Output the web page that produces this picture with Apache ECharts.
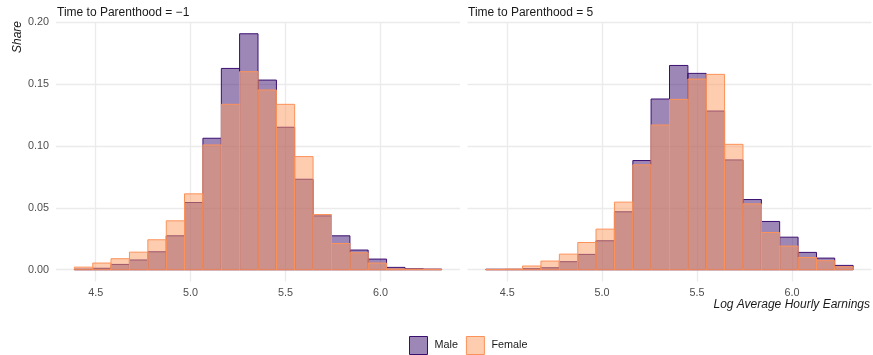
<!DOCTYPE html>
<html>
<head>
<meta charset="utf-8">
<script src="https://cdn.jsdelivr.net/npm/echarts@6/dist/echarts.min.js"></script>
<style>
  html, body { margin: 0; padding: 0; background: #ffffff; }
  #chart { width: 873px; height: 355px; }
</style>
</head>
<body>
<div id="chart"></div>
<script>
// Histogram bin edges (log average hourly earnings), shared by both panels
const binEdges = [4.388, 4.485, 4.581, 4.678, 4.775, 4.872, 4.968, 5.065, 5.162, 5.258,
                  5.355, 5.452, 5.548, 5.645, 5.742, 5.839, 5.935, 6.032, 6.129, 6.225, 6.322];

// Share of observations per bin, one year before parenthood
const maleBefore   = [0.0005, 0.0012, 0.0043, 0.0079, 0.0145, 0.0274, 0.0543, 0.1062, 0.1626, 0.1906,
                      0.1532, 0.1151, 0.0731, 0.0435, 0.0274, 0.0159, 0.0086, 0.0019, 0.0008, 0.0005];
const femaleBefore = [0.0021, 0.0054, 0.0089, 0.0142, 0.0242, 0.0395, 0.0613, 0.1008, 0.1336, 0.1600,
                      0.1452, 0.1336, 0.0914, 0.0446, 0.0212, 0.0137, 0.0054, 0.0006, 0.0005, 0.0004];

// Share of observations per bin, five years after parenthood
const maleAfter    = [0.0004, 0.0004, 0.0008, 0.0016, 0.0065, 0.0124, 0.0234, 0.0468, 0.0882, 0.1379,
                      0.1650, 0.1586, 0.1282, 0.0887, 0.0567, 0.0390, 0.0263, 0.0140, 0.0094, 0.0035];
const femaleAfter  = [0.0003, 0.0005, 0.0030, 0.0070, 0.0126, 0.0220, 0.0328, 0.0546, 0.0847, 0.1169,
                      0.1376, 0.1540, 0.1578, 0.1013, 0.0532, 0.0301, 0.0191, 0.0099, 0.0073, 0.0024];

const panelTitles = ['Time to Parenthood = \u22121', 'Time to Parenthood = 5'];
const xTicks = [4.5, 5.0, 5.5, 6.0];
const yTicks = [0, 0.05, 0.10, 0.15, 0.20];
const groups = ['Male', 'Female'];

const FONT = '"Liberation Sans", Arial, Helvetica, sans-serif';
const MALE_LINE = '#3b0f70';
const MALE_FILL = 'rgba(59, 15, 112, 0.5)';
const FEMALE_LINE = '#fb9259';
const FEMALE_FILL = 'rgba(254, 155, 97, 0.5)';
const GRID_COLOR = '#ebebeb';

function binRows(values) {
  return values.map((v, i) => [binEdges[i], binEdges[i + 1], v]);
}

function makeRenderer(fill, stroke) {
  return function (params, api) {
    const x0 = api.value(0), x1 = api.value(1), y = api.value(2);
    const top = api.coord([x0, y]);
    const base = api.coord([x1, 0]);
    return {
      type: 'rect',
      shape: { x: top[0], y: top[1], width: base[0] - top[0], height: base[1] - top[1] },
      style: { fill: fill, stroke: stroke, lineWidth: 1 }
    };
  };
}

const xRange = [4.2913, 4.2913 + 2.1274];
const yRange = [-0.0095, 0.2001];

function xAxisFor(gridIndex) {
  return {
    type: 'value', gridIndex: gridIndex, min: xRange[0], max: xRange[1],
    axisLine: { show: false },
    axisTick: { show: false, customValues: xTicks },
    axisLabel: { customValues: xTicks, formatter: v => v.toFixed(1), color: '#4d4d4d',
                 fontFamily: FONT, fontSize: 10.8, margin: 6 },
    splitLine: { show: true, lineStyle: { color: GRID_COLOR, width: 1.3 } }
  };
}

function yAxisFor(gridIndex, showLabels) {
  return {
    type: 'value', gridIndex: gridIndex, min: yRange[0], max: yRange[1],
    axisLine: { show: false },
    axisTick: { show: false, customValues: yTicks },
    axisLabel: { show: showLabels, customValues: yTicks, formatter: v => v.toFixed(2),
                 color: '#4d4d4d', fontFamily: FONT, fontSize: 10.8, margin: 7 },
    splitLine: { show: true, lineStyle: { color: GRID_COLOR, width: 1.3 } }
  };
}

const chart = echarts.init(document.getElementById('chart'), null, { renderer: 'canvas' });

chart.setOption({
  animation: false,
  backgroundColor: '#ffffff',
  textStyle: { fontFamily: FONT },
  title: [
    { text: panelTitles[0], left: 57, top: 7, padding: 0,
      textStyle: { fontFamily: FONT, fontSize: 12, fontWeight: 'normal', color: '#1a1a1a' } },
    { text: panelTitles[1], left: 468, top: 7, padding: 0,
      textStyle: { fontFamily: FONT, fontSize: 12, fontWeight: 'normal', color: '#1a1a1a' } }
  ],
  grid: [
    { left: 56, top: 22, width: 404, height: 259.5 },
    { left: 467.5, top: 22, width: 404, height: 259.5 }
  ],
  xAxis: [xAxisFor(0), xAxisFor(1)],
  yAxis: [yAxisFor(0, true), yAxisFor(1, false)],
  legend: {
    left: 409, top: 336, padding: 0,
    itemWidth: 18, itemHeight: 18, itemGap: 8,
    icon: 'rect',
    textStyle: { fontFamily: FONT, fontSize: 10.8, color: '#1a1a1a', padding: [0, 0, 0, 2] },
    data: [
      { name: groups[0], itemStyle: { color: MALE_FILL, borderColor: MALE_LINE, borderWidth: 1 } },
      { name: groups[1], itemStyle: { color: FEMALE_FILL, borderColor: FEMALE_LINE, borderWidth: 1 } }
    ]
  },
  graphic: [
    { type: 'text', left: 12, top: 21, rotation: Math.PI / 2,
      style: { text: 'Share', font: 'italic 12px ' + FONT, fill: '#1a1a1a' } },
    { type: 'text', right: 3, top: 299,
      style: { text: 'Log Average Hourly Earnings', font: 'italic 12px ' + FONT, fill: '#1a1a1a' } }
  ],
  series: [
    { name: groups[0], type: 'custom', xAxisIndex: 0, yAxisIndex: 0, clip: true,
      itemStyle: { color: MALE_FILL, borderColor: MALE_LINE },
      encode: { x: [0, 1], y: 2 }, renderItem: makeRenderer(MALE_FILL, MALE_LINE), data: binRows(maleBefore) },
    { name: groups[1], type: 'custom', xAxisIndex: 0, yAxisIndex: 0, clip: true,
      itemStyle: { color: FEMALE_FILL, borderColor: FEMALE_LINE },
      encode: { x: [0, 1], y: 2 }, renderItem: makeRenderer(FEMALE_FILL, FEMALE_LINE), data: binRows(femaleBefore) },
    { name: groups[0], type: 'custom', xAxisIndex: 1, yAxisIndex: 1, clip: true,
      itemStyle: { color: MALE_FILL, borderColor: MALE_LINE },
      encode: { x: [0, 1], y: 2 }, renderItem: makeRenderer(MALE_FILL, MALE_LINE), data: binRows(maleAfter) },
    { name: groups[1], type: 'custom', xAxisIndex: 1, yAxisIndex: 1, clip: true,
      itemStyle: { color: FEMALE_FILL, borderColor: FEMALE_LINE },
      encode: { x: [0, 1], y: 2 }, renderItem: makeRenderer(FEMALE_FILL, FEMALE_LINE), data: binRows(femaleAfter) }
  ]
});
</script>
</body>
</html>
